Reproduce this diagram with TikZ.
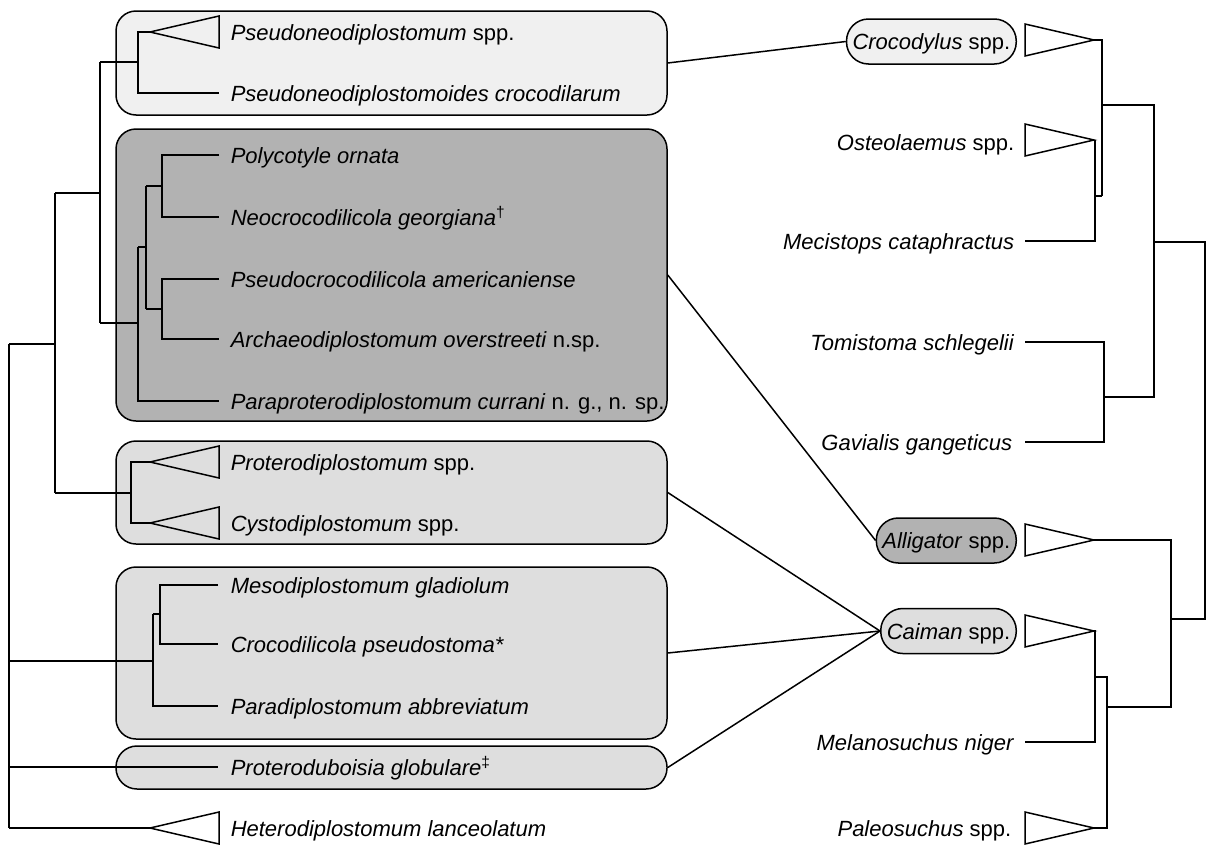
\documentclass[tikz,border=0pt]{standalone}
\usepackage{fontspec}
\setmainfont{Liberation Sans}
\definecolor{paleclade}{gray}{0.94}
\definecolor{greyclade}{gray}{0.87}
\definecolor{darkclade}{gray}{0.70}

\begin{document}
\begin{tikzpicture}[x=1pt, y=-1pt, line width=1.5pt,
    every node/.style={font=\fontsize{22}{26}\selectfont, inner sep=0pt},
    clade/.style={draw, rounded corners=20pt, minimum width=551pt},
    host/.style={draw, rounded corners=22pt, minimum height=45pt, inner xsep=6pt,
        text height=16pt, text depth=0pt, anchor=east},
    para/.style={anchor=base west},
    croc/.style={anchor=base east}]
    \useasboundingbox (0,0) rectangle (1207,849);

    % clade boxes (parasites)
    \node[clade, fill=paleclade, minimum height=104pt] (pseudo) at (391.5,63) {};
    \node[clade, fill=darkclade, minimum height=292pt] (crocodilicolid) at (391.5,275) {};
    \node[clade, fill=greyclade, minimum height=103pt] (protero) at (391.5,492.5) {};
    \node[clade, fill=greyclade, minimum height=172pt] (meso) at (391.5,653) {};
    \node[clade, fill=greyclade, minimum height=43pt, rounded corners=21pt] (duboisia) at (391.5,767.5) {};

    % host pills
    \node[host, fill=paleclade] (crocodylus) at (1017,41.5) {\textit{Crocodylus} spp.};
    \node[host, fill=darkclade] (alligator) at (1017,540.5) {\textit{Alligator} spp.};
    \node[host, fill=greyclade] (caiman) at (1017,631) {\textit{Caiman} spp.};

    \draw (pseudo.east) -- (crocodylus.west);
    \draw (crocodilicolid.east) -- (alligator.west);
    \draw (protero.east) -- (caiman.west);
    \draw (meso.east) -- (caiman.west);
    \draw (duboisia.east) -- (caiman.west);

    % parasite tree
    \foreach \y in {32, 462, 523, 828}
        \draw (150,\y) -- ++(69,-16) -- ++(0,32) -- cycle;
    \draw (150,32) -- (138,32) -- (138,93) -- (219,93);
    \draw (100,62) -- (138,62);
    \draw (219,155) -- (162,155) -- (162,217) -- (219,217);
    \draw (146,186) -- (162,186);
    \draw (219,279) -- (162,279) -- (162,339) -- (219,339);
    \draw (146,309) -- (162,309);
    \draw (146,186) -- (146,309);
    \draw (138,247) -- (146,247);
    \draw (138,247) -- (138,401) -- (219,401);
    \draw (100,323) -- (138,323);
    \draw (100,62) -- (100,323);
    \draw (55,193) -- (100,193);
    \draw (150,462) -- (131,462) -- (131,523) -- (150,523);
    \draw (55,493) -- (131,493);
    \draw (55,193) -- (55,493);
    \draw (9,344) -- (55,344);
    \draw (218,585) -- (160,585) -- (160,644) -- (218,644);
    \draw (153,614) -- (160,614);
    \draw (153,614) -- (153,706) -- (218,706);
    \draw (9,661) -- (153,661);
    \draw (9,767) -- (218,767);
    \draw (9,828) -- (150,828);
    \draw (9,344) -- (9,828); % root

    \node[para] (pnd) at (230,40) {\textit{Pseudoneodiplostomum} spp.};
    \node[para] (pndc) at (230,101) {\textit{Pseudoneodiplostomoides crocodilarum}};
    \node[para] (poly) at (230,163) {\textit{Polycotyle ornata}};
    \node[para] (neo) at (230,225) {\textit{Neocrocodilicola georgiana}\textsuperscript{†}};
    \node[para] (pscroc) at (230,287) {\textit{Pseudocrocodilicola americaniense}};
    \node[para] (archaeo) at (230,347) {\textit{Archaeodiplostomum overstreeti} n.sp.};
    \node[para] (parapro) at (230,409) {\textit{Paraproterodiplostomum currani} n. g., n. sp.};
    \node[para] (prot) at (230,470) {\textit{Proterodiplostomum} spp.};
    \node[para] (cysto) at (230,531) {\textit{Cystodiplostomum} spp.};
    \node[para] (mesod) at (230,593) {\textit{Mesodiplostomum gladiolum}};
    \node[para] (crocps) at (230,652) {\textit{Crocodilicola pseudostoma*}};
    \node[para] (parad) at (230,714) {\textit{Paradiplostomum abbreviatum}};
    \node[para] (protdub) at (230,775) {\textit{Proteroduboisia globulare}\textsuperscript{‡}};
    \node[para] (hetero) at (230,836) {\textit{Heterodiplostomum lanceolatum}};

    % host tree
    \foreach \y in {40, 140, 540, 631, 828}
        \draw (1094,\y) -- ++(-69,-16) -- ++(0,32) -- cycle;
    \draw (1025,241) -- (1095,241) -- (1095,140);
    \draw (1095,196) -- (1102,196);
    \draw (1094,40) -- (1102,40) -- (1102,196);
    \draw (1102,105) -- (1154,105) -- (1154,397) -- (1104,397);
    \draw (1025,342) -- (1104,342) -- (1104,442) -- (1025,442);
    \draw (1154,242) -- (1205,242) -- (1205,619) -- (1171,619);
    \draw (1094,540) -- (1171,540) -- (1171,707) -- (1107,707);
    \draw (1094,631) -- (1095,631) -- (1095,742) -- (1025,742);
    \draw (1095,677) -- (1107,677) -- (1107,828) -- (1094,828);

    \node[croc] (osteo) at (1015,150) {\textit{Osteolaemus} spp.};
    \node[croc] (mecis) at (1015,249) {\textit{Mecistops cataphractus}};
    \node[croc] (tomis) at (1015,350) {\textit{Tomistoma schlegelii}};
    \node[croc] (gavia) at (1013,450) {\textit{Gavialis gangeticus}};
    \node[croc] (melano) at (1015,750) {\textit{Melanosuchus niger}};
    \node[croc] (paleo) at (1012,836) {\textit{Paleosuchus} spp.};
\end{tikzpicture}
\end{document}
